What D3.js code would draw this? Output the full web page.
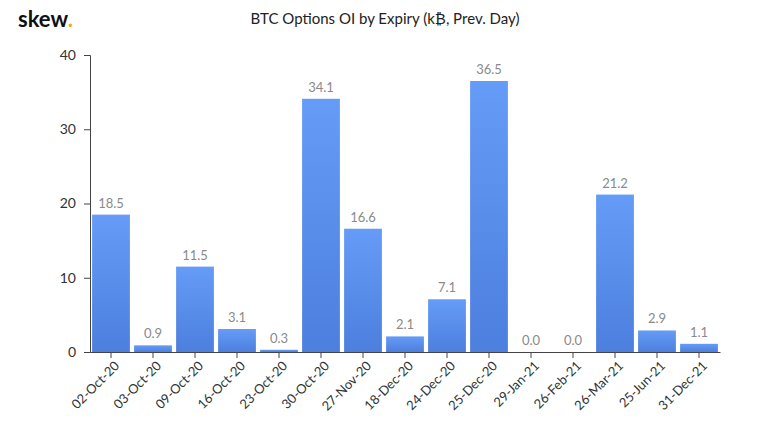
<!DOCTYPE html>
<html><head><meta charset="utf-8">
<script src="https://cdn.jsdelivr.net/npm/d3@7"></script>
<style>body{margin:0;background:#fff;font-family:Lato,sans-serif}</style>
</head><body><svg id="chart" width="775" height="433"></svg>
<script>
const expiries = ["02-Oct-20","03-Oct-20","09-Oct-20","16-Oct-20","23-Oct-20","30-Oct-20","27-Nov-20","18-Dec-20","24-Dec-20","25-Dec-20","29-Jan-21","26-Feb-21","26-Mar-21","25-Jun-21","31-Dec-21"];
const openInterest = [18.5,0.9,11.5,3.1,0.3,34.1,16.6,2.1,7.1,36.5,0.0,0.0,21.2,2.9,1.1];
const yTicks = [0,10,20,30,40];

const svg = d3.select("#chart");
const margin = {left: 90, right: 55, top: 55, bottom: 81};
const W = 775, H = 433;

const x = d3.scaleBand().domain(expiries).range([margin.left, W - margin.right]).paddingInner(0.1).paddingOuter(0.05);
const y = d3.scaleLinear().domain([0, 40]).range([H - margin.bottom, margin.top]);

const grad = svg.append("defs").append("linearGradient").attr("id", "bar").attr("x1", 0).attr("x2", 0).attr("y1", 0).attr("y2", 1);
grad.append("stop").attr("offset", "0%").attr("stop-color", "#659cf7");
grad.append("stop").attr("offset", "100%").attr("stop-color", "#4d7fde");

// logo + title
svg.append("text").attr("x", 18).attr("y", 27).attr("font-size", 22).attr("font-weight", 700).attr("fill", "#111")
	.text("skew").append("tspan").attr("fill", "#f5a623").text(".");
svg.append("text").attr("x", 385).attr("y", 24).attr("text-anchor", "middle").attr("font-size", 15).attr("fill", "#222")
	.text("BTC Options OI by Expiry (k\u20bf, Prev. Day)");

svg.append("g").selectAll("rect").data(openInterest).join("rect")
	.attr("x", (d, i) => x(expiries[i]))
	.attr("y", d => y(d))
	.attr("width", x.bandwidth())
	.attr("height", d => Math.max(y(0) - y(d), 1))
	.attr("fill", "url(#bar)");

svg.append("g").selectAll("text").data(openInterest).join("text")
	.attr("x", (d, i) => x(expiries[i]) + x.bandwidth() / 2)
	.attr("y", d => y(d) - 7)
	.attr("text-anchor", "middle").attr("font-size", 13).attr("fill", "#8a8a8a")
	.text(d => d.toFixed(1));

const yAxis = svg.append("g").attr("transform", `translate(${margin.left},0)`)
	.call(d3.axisLeft(y).tickValues(yTicks).tickSize(6).tickPadding(8));
yAxis.selectAll("text").attr("font-size", 14).attr("fill", "#333").style("font-family", "Lato");
yAxis.selectAll("line,path").attr("stroke", "#444");

const xAxis = svg.append("g").attr("transform", `translate(0,${y(0)})`)
	.call(d3.axisBottom(x).tickSize(6).tickSizeOuter(0));
xAxis.selectAll("line,path").attr("stroke", "#444");
xAxis.selectAll("text").attr("font-size", 13).attr("fill", "#333").style("font-family", "Lato")
	.attr("text-anchor", "end").attr("dx", "-0.3em").attr("dy", "0.6em")
	.attr("transform", "rotate(-45)");
</script></body></html>
